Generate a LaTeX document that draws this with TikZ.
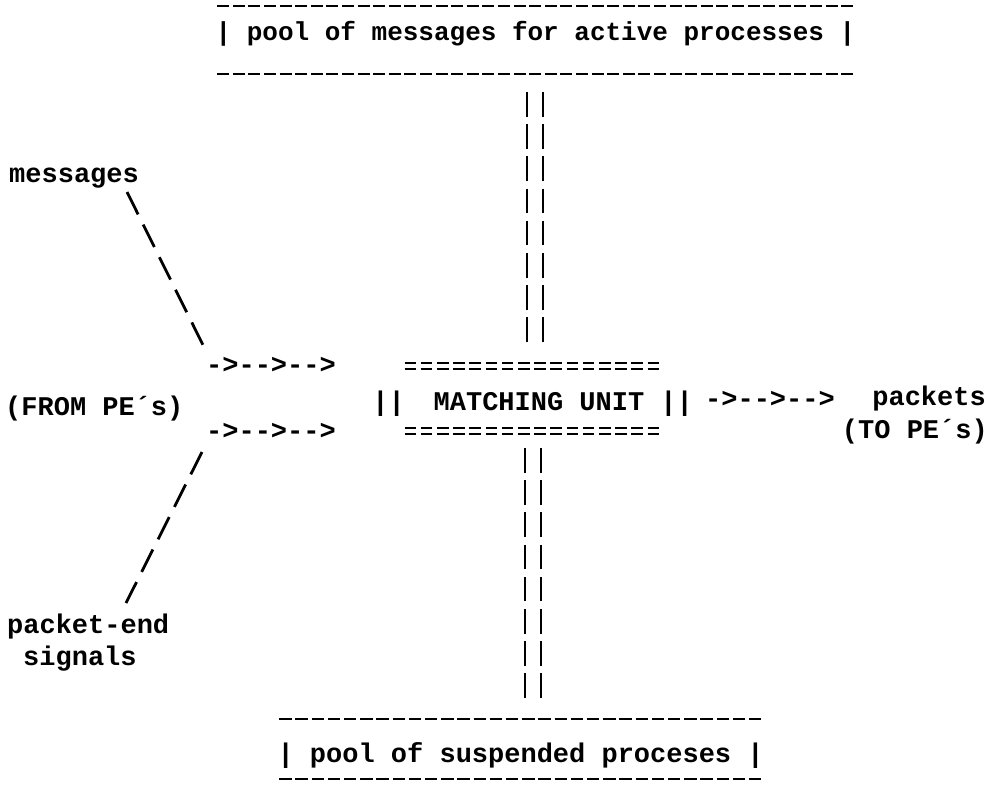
\documentclass[tikz,border=0pt]{standalone}
\usepackage{fontspec}
\newfontfamily\typewriter{Liberation Mono}
\begin{document}
\begin{tikzpicture}[x=1pt,y=-1pt,
  every node/.style={font=\typewriter\bfseries\fontsize{27}{30}\selectfont, inner sep=0pt, anchor=base},
  small/.style={font=\typewriter\bfseries\fontsize{26}{30}\selectfont},
  rulea/.style={line width=2.2pt, dash pattern=on 12pt off 3.6pt, dash phase=13.8pt},
  ruleb/.style={line width=2.2pt, dash pattern=on 12.4pt off 3.8pt, dash phase=14.3pt},
  eqrule/.style={line width=2.1pt, dash pattern=on 11.6pt off 4.6pt, dash phase=14.7pt},
  bars/.style={line width=2.6pt, dash pattern=on 24.5pt off 7.7pt},
  slant/.style={line width=2.8pt, dash pattern=on 25pt off 11.4pt}]
\useasboundingbox[fill=white] (0,0) rectangle (1007,785);

% store of messages for active processes
\node[small] (active) at (535.5,40) {|\ pool of messages for active processes\ |};
\draw[rulea] (active.west |- 0,6) -- (active.east |- 0,6);
\draw[rulea] (active.west |- 0,74) -- (active.east |- 0,74);

% matching unit
\node (mu) at (539,410) {MATCHING UNIT};
\node (muLbar) at (388.5,410) {||};
\node (muRbar) at (676.5,410) {||};
\coordinate (eqL) at (403,0);
\coordinate (eqR) at (660,0);
\foreach \yy in {366,431}{
  \draw[eqrule] (eqL |- 0,\yy-2.8) -- (eqR |- 0,\yy-2.8);
  \draw[eqrule] (eqL |- 0,\yy+2.8) -- (eqR |- 0,\yy+2.8);
}

% store of suspended processes
\node (suspended) at (520.6,762) {|\ pool of suspended proceses\ |};
\draw[ruleb] (suspended.west |- 0,719) -- (suspended.east |- 0,719);
\draw[ruleb] (suspended.west |- 0,779) -- (suspended.east |- 0,779);

% double channels between the stores and the matching unit
\coordinate (upA) at (527,92);   \coordinate (upB) at (543,92);
\coordinate (muTopA) at (527,343); \coordinate (muTopB) at (543,343);
\coordinate (muBotA) at (525,448); \coordinate (muBotB) at (541,448);
\coordinate (dnA) at (525,700);  \coordinate (dnB) at (541,700);
\draw[bars] (upA) -- (muTopA);
\draw[bars] (upB) -- (muTopB);
\draw[bars] (muBotA) -- (dnA);
\draw[bars] (muBotB) -- (dnB);

% inputs
\node[anchor=base west] (msg) at (9,182) {messages};
\node[anchor=base west] (from) at (5,415) {(FROM PE´s)};
\node[anchor=base west] (pend) at (7,633) {packet-end};
\node[anchor=base west] (sig) at (23,665) {signals};
\node (inA) at (271,373) {->-->-->};
\node (inB) at (271,439) {->-->-->};
\coordinate (msgTail) at (127,192);
\coordinate (msgHead) at (203,345);
\coordinate (pendHead) at (202,452);
\coordinate (pendTail) at (126,603);
\draw[slant] (msgTail) -- (msgHead);
\draw[slant] (pendHead) -- (pendTail);

% output
\node (out) at (770,407) {->-->-->};
\node[anchor=base east] (pk) at (986,405) {packets};
\node[anchor=base east] (to) at (988,438) {(TO PE´s)};
\end{tikzpicture}
\end{document}
